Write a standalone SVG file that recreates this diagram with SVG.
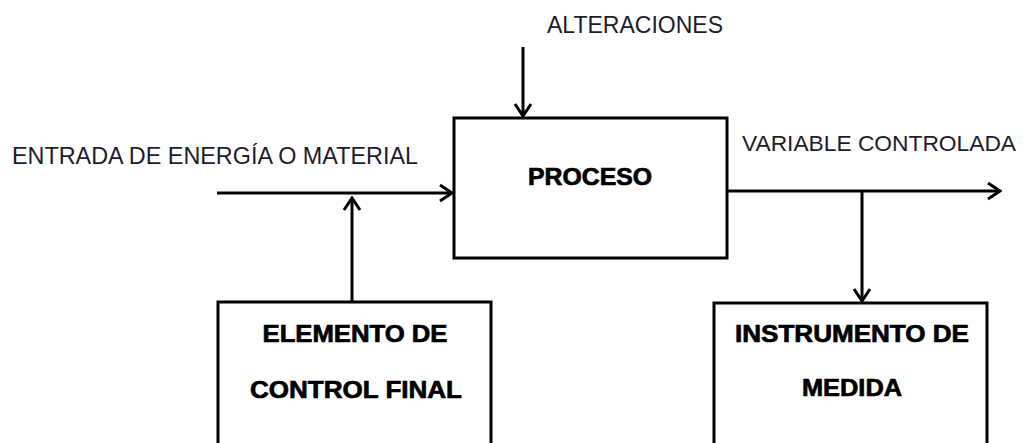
<svg xmlns="http://www.w3.org/2000/svg" width="1025" height="443" viewBox="0 0 1025 443">
<style>
.box{fill:#fff;stroke:#000;stroke-width:3}
.conn{fill:none;stroke:#000;stroke-width:3}
.lbl{font-family:"Liberation Sans",Arial,sans-serif;font-size:24px;fill:#1c1c2c}
.lbl.sm{font-size:22.5px}
.bold{font-family:"Liberation Sans",Arial,sans-serif;font-size:24px;font-weight:bold;fill:#000;stroke:#000;stroke-width:0.7;text-anchor:middle}
</style>
<defs>
<marker id="arr" viewBox="0 0 16 20" refX="14" refY="10" markerWidth="16" markerHeight="20" markerUnits="userSpaceOnUse" orient="auto">
<path d="M2,2 L14,10 L2,18" fill="none" stroke="#000" stroke-width="3"/>
</marker>
</defs>
<rect width="1025" height="443" fill="#fff"/>
<g id="proceso">
<rect class="box" x="454" y="118" width="273" height="140"/>
<text class="bold" x="590" y="185" textLength="124" lengthAdjust="spacingAndGlyphs">PROCESO</text>
</g>
<g id="elemento">
<rect class="box" x="218" y="302" width="273" height="160"/>
<text class="bold" x="355" y="342" textLength="185" lengthAdjust="spacingAndGlyphs">ELEMENTO DE</text>
<text class="bold" x="356" y="398" textLength="212" lengthAdjust="spacingAndGlyphs">CONTROL FINAL</text>
</g>
<g id="instrumento">
<rect class="box" x="714" y="303" width="273" height="160"/>
<text class="bold" x="852" y="342" textLength="234" lengthAdjust="spacingAndGlyphs">INSTRUMENTO DE</text>
<text class="bold" x="852" y="396" textLength="100" lengthAdjust="spacingAndGlyphs">MEDIDA</text>
</g>
<g id="labels">
<text class="lbl" x="547" y="33" textLength="176" lengthAdjust="spacingAndGlyphs">ALTERACIONES</text>
<text class="lbl" x="12" y="164" textLength="406" lengthAdjust="spacingAndGlyphs">ENTRADA DE ENERGÍA O MATERIAL</text>
<text class="lbl sm" x="742" y="151" textLength="274" lengthAdjust="spacingAndGlyphs">VARIABLE CONTROLADA</text>
</g>
<g id="connectors">
<line class="conn" x1="523" y1="47" x2="523" y2="116" marker-end="url(#arr)"/>
<line class="conn" x1="217" y1="193" x2="452" y2="193" marker-end="url(#arr)"/>
<line class="conn" x1="352" y1="302" x2="352" y2="198" marker-end="url(#arr)"/>
<line class="conn" x1="727" y1="191" x2="1000" y2="191" marker-end="url(#arr)"/>
<line class="conn" x1="862" y1="191" x2="862" y2="301" marker-end="url(#arr)"/>
</g>
</svg>
